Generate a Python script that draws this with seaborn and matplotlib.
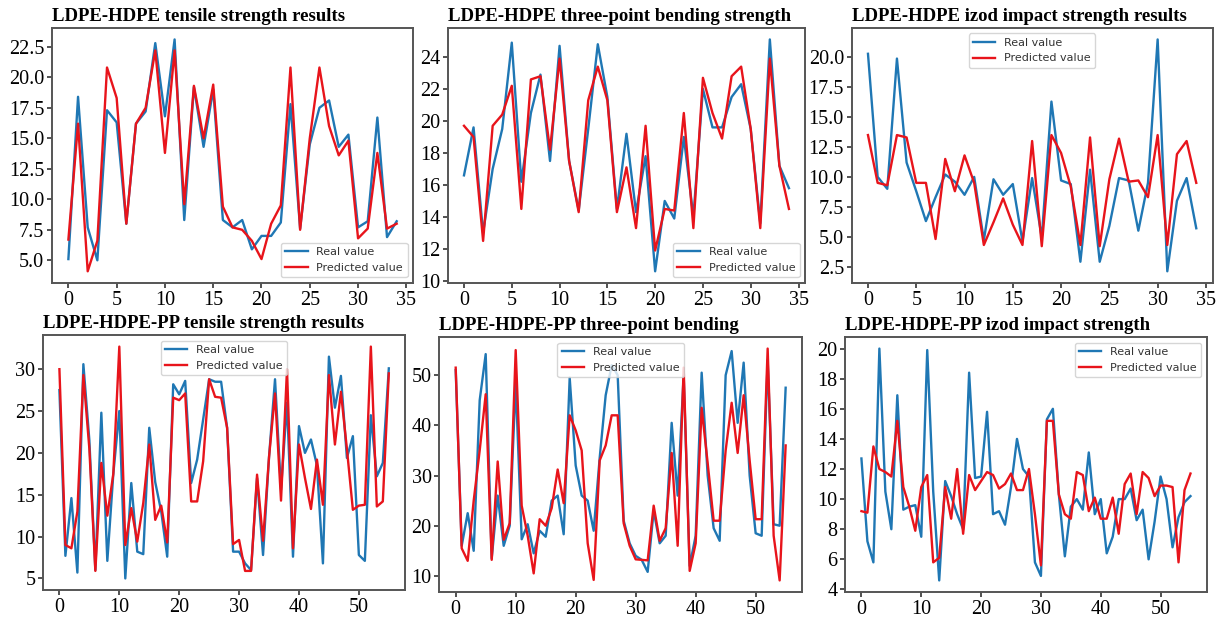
import numpy as np
import seaborn as sns
import matplotlib.pyplot as plt
from matplotlib.ticker import MultipleLocator

# LDPE-HDPE (35 samples)
tensile_real = [5.1, 18.4, 7.7, 5.0, 17.3, 16.3, 8.0, 16.2, 17.2, 22.8, 16.8, 23.1, 8.3, 19.2, 14.3, 19.0, 8.3, 7.7,
                8.3, 5.9, 7.0, 7.0, 8.1, 17.8, 7.6, 14.5, 17.5, 18.1, 14.3, 15.3, 7.7, 8.2, 16.7, 6.9, 8.2]
tensile_pred = [6.7, 16.2, 4.1, 6.6, 20.8, 18.3, 8.0, 16.2, 17.5, 22.2, 13.8, 22.2, 9.6, 19.3, 15.0, 19.4, 9.4, 7.7,
                7.5, 6.6, 5.1, 8.0, 9.5, 20.8, 7.5, 15.0, 20.8, 16.0, 13.6, 14.8, 6.8, 7.6, 13.8, 7.6, 8.0]
bending_real = [16.6, 19.6, 13.0, 17.0, 19.5, 24.9, 16.2, 20.5, 22.9, 17.5, 24.7, 17.5, 14.4, 19.5, 24.8, 21.5, 14.5,
                19.2, 14.3, 17.8, 10.6, 15.0, 13.9, 19.0, 14.0, 22.0, 19.6, 19.6, 21.5, 22.3, 19.5, 13.6, 25.1, 17.2, 15.8]
bending_pred = [19.7, 19.0, 12.5, 19.7, 20.4, 22.2, 14.5, 22.6, 22.8, 18.2, 23.9, 17.5, 14.3, 21.3, 23.4, 21.3, 14.3,
                17.1, 13.3, 19.7, 11.9, 14.5, 14.4, 20.5, 13.3, 22.7, 20.5, 18.9, 22.8, 23.4, 19.5, 13.3, 23.9, 17.2, 14.5]
izod_real = [20.3, 10.0, 9.0, 19.9, 11.2, 8.8, 6.3, 8.3, 10.2, 9.6, 8.5, 10.0, 4.7, 9.8, 8.5, 9.4, 4.6, 9.9, 4.9,
             16.3, 9.7, 9.4, 2.9, 10.6, 2.9, 5.9, 9.9, 9.7, 5.5, 9.5, 21.5, 2.1, 8.0, 9.9, 5.7]
izod_pred = [13.5, 9.5, 9.3, 13.5, 13.3, 9.5, 9.5, 4.8, 11.5, 8.8, 11.8, 9.5, 4.3, 6.2, 8.2, 6.0, 4.3, 13.0, 4.2,
             13.5, 12.0, 9.2, 4.3, 13.3, 4.2, 9.8, 13.2, 9.6, 9.7, 8.3, 13.5, 4.3, 11.9, 13.0, 9.5]

# LDPE-HDPE-PP (56 samples)
pp_tensile_real = [27.5, 7.7, 14.6, 5.7, 30.6, 21.5, 6.0, 24.8, 7.1, 17.5, 25.0, 5.0, 16.4, 8.2, 7.9, 23.0, 16.5, 13.0,
                   7.6, 28.2, 27.0, 28.6, 16.4, 19.2, 24.0, 28.8, 28.5, 28.5, 23.0, 8.2, 8.2, 6.8, 6.0, 17.0, 7.8, 19.5,
                   28.8, 15.6, 26.0, 7.6, 23.2, 20.0, 21.6, 18.5, 6.8, 31.5, 25.4, 29.2, 19.4, 22.0, 7.8, 7.1, 24.5,
                   17.2, 18.8, 30.1]
pp_tensile_pred = [30.0, 9.0, 8.6, 13.0, 29.3, 20.5, 5.9, 18.8, 12.5, 17.5, 32.7, 9.0, 13.4, 9.4, 14.0, 21.0, 12.0, 13.7,
                   9.3, 26.6, 26.3, 27.1, 14.2, 14.2, 19.0, 28.8, 26.7, 26.6, 23.0, 9.1, 9.6, 5.9, 5.9, 17.4, 9.5, 19.5,
                   27.1, 14.3, 30.0, 8.6, 21.0, 17.0, 13.3, 19.2, 13.8, 29.3, 21.0, 27.3, 20.5, 13.2, 13.7, 13.8, 32.7,
                   13.6, 14.2, 29.5]
pp_bending_real = [51.0, 16.0, 22.5, 15.0, 45.0, 54.2, 13.5, 26.0, 16.0, 20.0, 48.5, 17.3, 20.3, 14.5, 19.0, 17.8, 25.0,
                   26.0, 18.3, 49.5, 32.0, 26.0, 25.0, 19.0, 33.5, 46.0, 52.0, 50.0, 21.0, 16.5, 14.0, 13.2, 10.8, 23.0,
                   16.5, 18.0, 40.5, 26.0, 50.0, 12.0, 18.0, 50.5, 30.0, 19.5, 17.0, 50.0, 54.8, 40.5, 52.5, 30.0, 18.5,
                   18.0, 53.0, 20.3, 20.0, 47.5]
pp_bending_pred = [51.5, 15.5, 13.0, 25.0, 35.0, 46.2, 13.2, 32.8, 17.2, 20.5, 55.0, 24.0, 18.0, 10.5, 21.3, 20.0, 23.5,
                   31.2, 24.5, 42.0, 39.0, 35.0, 16.5, 9.2, 33.0, 36.0, 42.0, 42.0, 20.5, 16.0, 13.3, 13.2, 13.1, 24.0,
                   17.0, 19.5, 34.5, 16.0, 51.5, 11.0, 16.5, 43.5, 32.5, 21.0, 21.0, 35.0, 44.5, 34.5, 46.0, 33.0, 21.3,
                   21.3, 55.3, 18.0, 9.1, 36.0]
pp_izod_real = [12.7, 7.2, 5.8, 20.0, 10.5, 8.0, 16.9, 9.3, 9.5, 9.6, 7.5, 19.9, 10.5, 4.6, 11.2, 10.2, 9.0, 8.0, 18.4,
                11.4, 11.5, 15.8, 9.0, 9.2, 8.3, 10.8, 14.0, 12.0, 11.5, 5.8, 4.9, 15.3, 16.0, 10.3, 6.2, 9.5, 10.0,
                9.3, 13.1, 9.0, 10.0, 6.4, 7.5, 10.0, 10.0, 10.7, 8.6, 9.3, 6.0, 8.5, 11.5, 10.0, 6.8, 8.8, 9.8, 10.2]
pp_izod_pred = [9.2, 9.1, 13.5, 12.0, 11.8, 11.5, 15.2, 10.8, 9.5, 7.9, 10.8, 11.6, 5.8, 6.1, 10.8, 8.7, 12.0, 7.7,
                11.6, 10.6, 11.2, 11.8, 11.6, 10.7, 11.0, 11.7, 10.6, 10.6, 12.0, 9.0, 5.6, 15.2, 15.2, 10.3, 9.0, 8.7,
                11.8, 11.6, 9.2, 10.1, 8.7, 8.7, 10.1, 7.7, 11.0, 11.7, 9.0, 11.8, 11.4, 10.2, 10.9, 10.9, 10.8, 5.8,
                10.6, 11.7]

plt.rcParams['font.family'] = ['Liberation Serif', 'DejaVu Serif']

fig = plt.figure(figsize=(12.2, 6.19), dpi=100)


def draw(rect, title, real, pred, loc, xstep, ystep):
    ax = fig.add_axes(rect)
    x = np.arange(len(real))
    sns.lineplot(x=x, y=real, ax=ax, color='#1f77b4', lw=1.7, label='Real value')
    sns.lineplot(x=x, y=pred, ax=ax, color='#e8141b', lw=1.7, label='Predicted value')
    ax.set_title(title, loc='left', fontsize=13.5, fontweight='bold', pad=5)
    ax.xaxis.set_major_locator(MultipleLocator(xstep))
    ax.yaxis.set_major_locator(MultipleLocator(ystep))
    ax.tick_params(labelsize=14.5, colors='#333333', labelcolor='black', width=1.2, pad=2)
    for s in ax.spines.values():
        s.set_color('#555555')
        s.set_linewidth(1.4)
    leg = ax.legend(loc=loc, prop={'family': 'DejaVu Sans', 'size': 8})
    for t in leg.get_texts():
        t.set_color('#333333')
    return ax


draw([0.0426, 0.543, 0.296, 0.412], 'LDPE-HDPE tensile strength results', tensile_real, tensile_pred,
     'lower right', 5, 2.5)
draw([0.367, 0.543, 0.293, 0.412], 'LDPE-HDPE three-point bending strength', bending_real, bending_pred,
     'lower right', 5, 2)
draw([0.698, 0.543, 0.296, 0.412], 'LDPE-HDPE izod impact strength results', izod_real, izod_pred,
     'upper center', 5, 2.5)
draw([0.0352, 0.0468, 0.297, 0.412], 'LDPE-HDPE-PP tensile strength results', pp_tensile_real, pp_tensile_pred,
     'upper center', 10, 5)
draw([0.36, 0.0436, 0.2975, 0.412], 'LDPE-HDPE-PP three-point bending', pp_bending_real, pp_bending_pred,
     'upper center', 10, 10)
draw([0.6926, 0.0436, 0.2967, 0.412], 'LDPE-HDPE-PP izod impact strength', pp_izod_real, pp_izod_pred,
     'upper right', 10, 2)

fig.savefig('out.png', dpi=100)
